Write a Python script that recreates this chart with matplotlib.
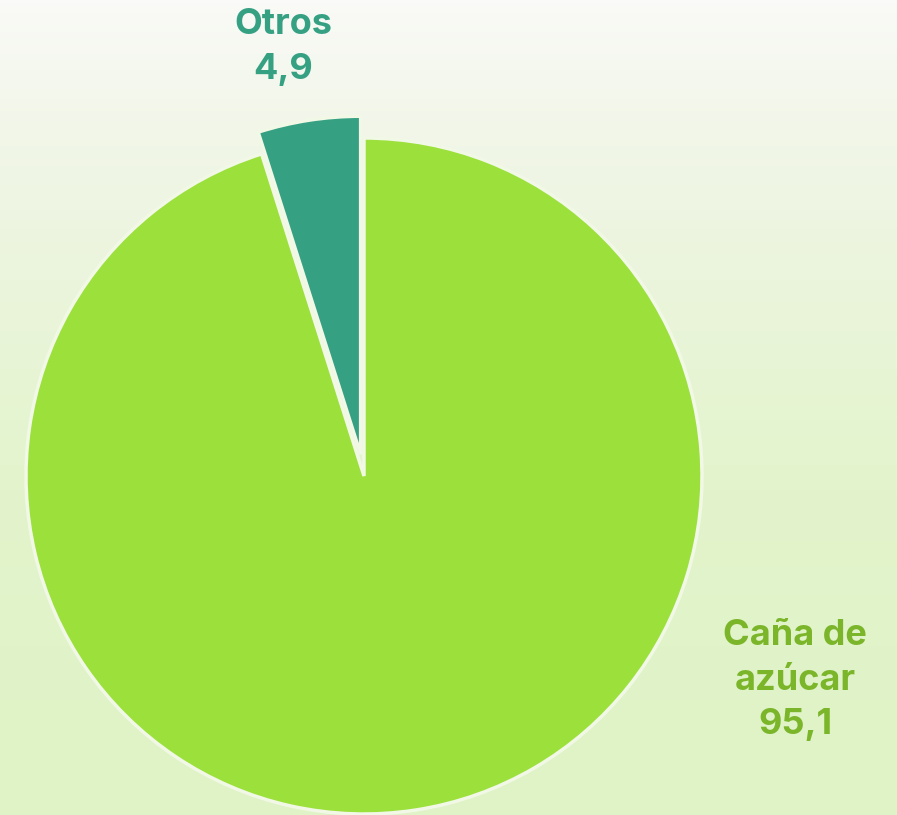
import numpy as np
import matplotlib
matplotlib.use("Agg")
import matplotlib.pyplot as plt
from matplotlib.colors import LinearSegmentedColormap

# datos
labels = ["Otros", "Caña de\nazúcar"]
values = [4.9, 95.1]
colors = ["#36a083", "#9be03b"]
text_colors = ["#36a083", "#7ab52a"]

W, H = 897, 815
fig = plt.figure(figsize=(W / 100, H / 100), dpi=100)
ax = fig.add_axes([0, 0, 1, 1])

# fondo degradado (blanco arriba -> verde claro abajo)
cmap = LinearSegmentedColormap.from_list("bg", ["#fafaf8", "#eef5e2", "#e3f4cc", "#dff3c6"])
grad = np.linspace(0, 1, 256).reshape(-1, 1) ** 0.8
ax.imshow(grad, extent=[0, W, 0, H], cmap=cmap, aspect="auto", zorder=0)

cx, cy, r = 364, H - 476, 338
ax.pie(values, colors=colors, startangle=90, counterclock=True,
       explode=[22, 0], center=(cx, cy), radius=r,
       wedgeprops=dict(edgecolor="#f2f8e6", linewidth=2.5), frame=True)
ax.set_xlim(0, W)
ax.set_ylim(0, H)
ax.set_aspect("auto")
ax.axis("off")

font = ["Inter", "DejaVu Sans"]
ax.text(283, H - 47, "Otros\n4,9", ha="center", va="center", fontsize=26,
        fontweight="bold", color=text_colors[0], family=font, linespacing=1.5)
ax.text(795, H - 680, "Caña de\nazúcar\n95,1", ha="center", va="center", fontsize=26,
        fontweight="bold", color=text_colors[1], family=font, linespacing=1.45)

fig.savefig("out.png", dpi=100)
